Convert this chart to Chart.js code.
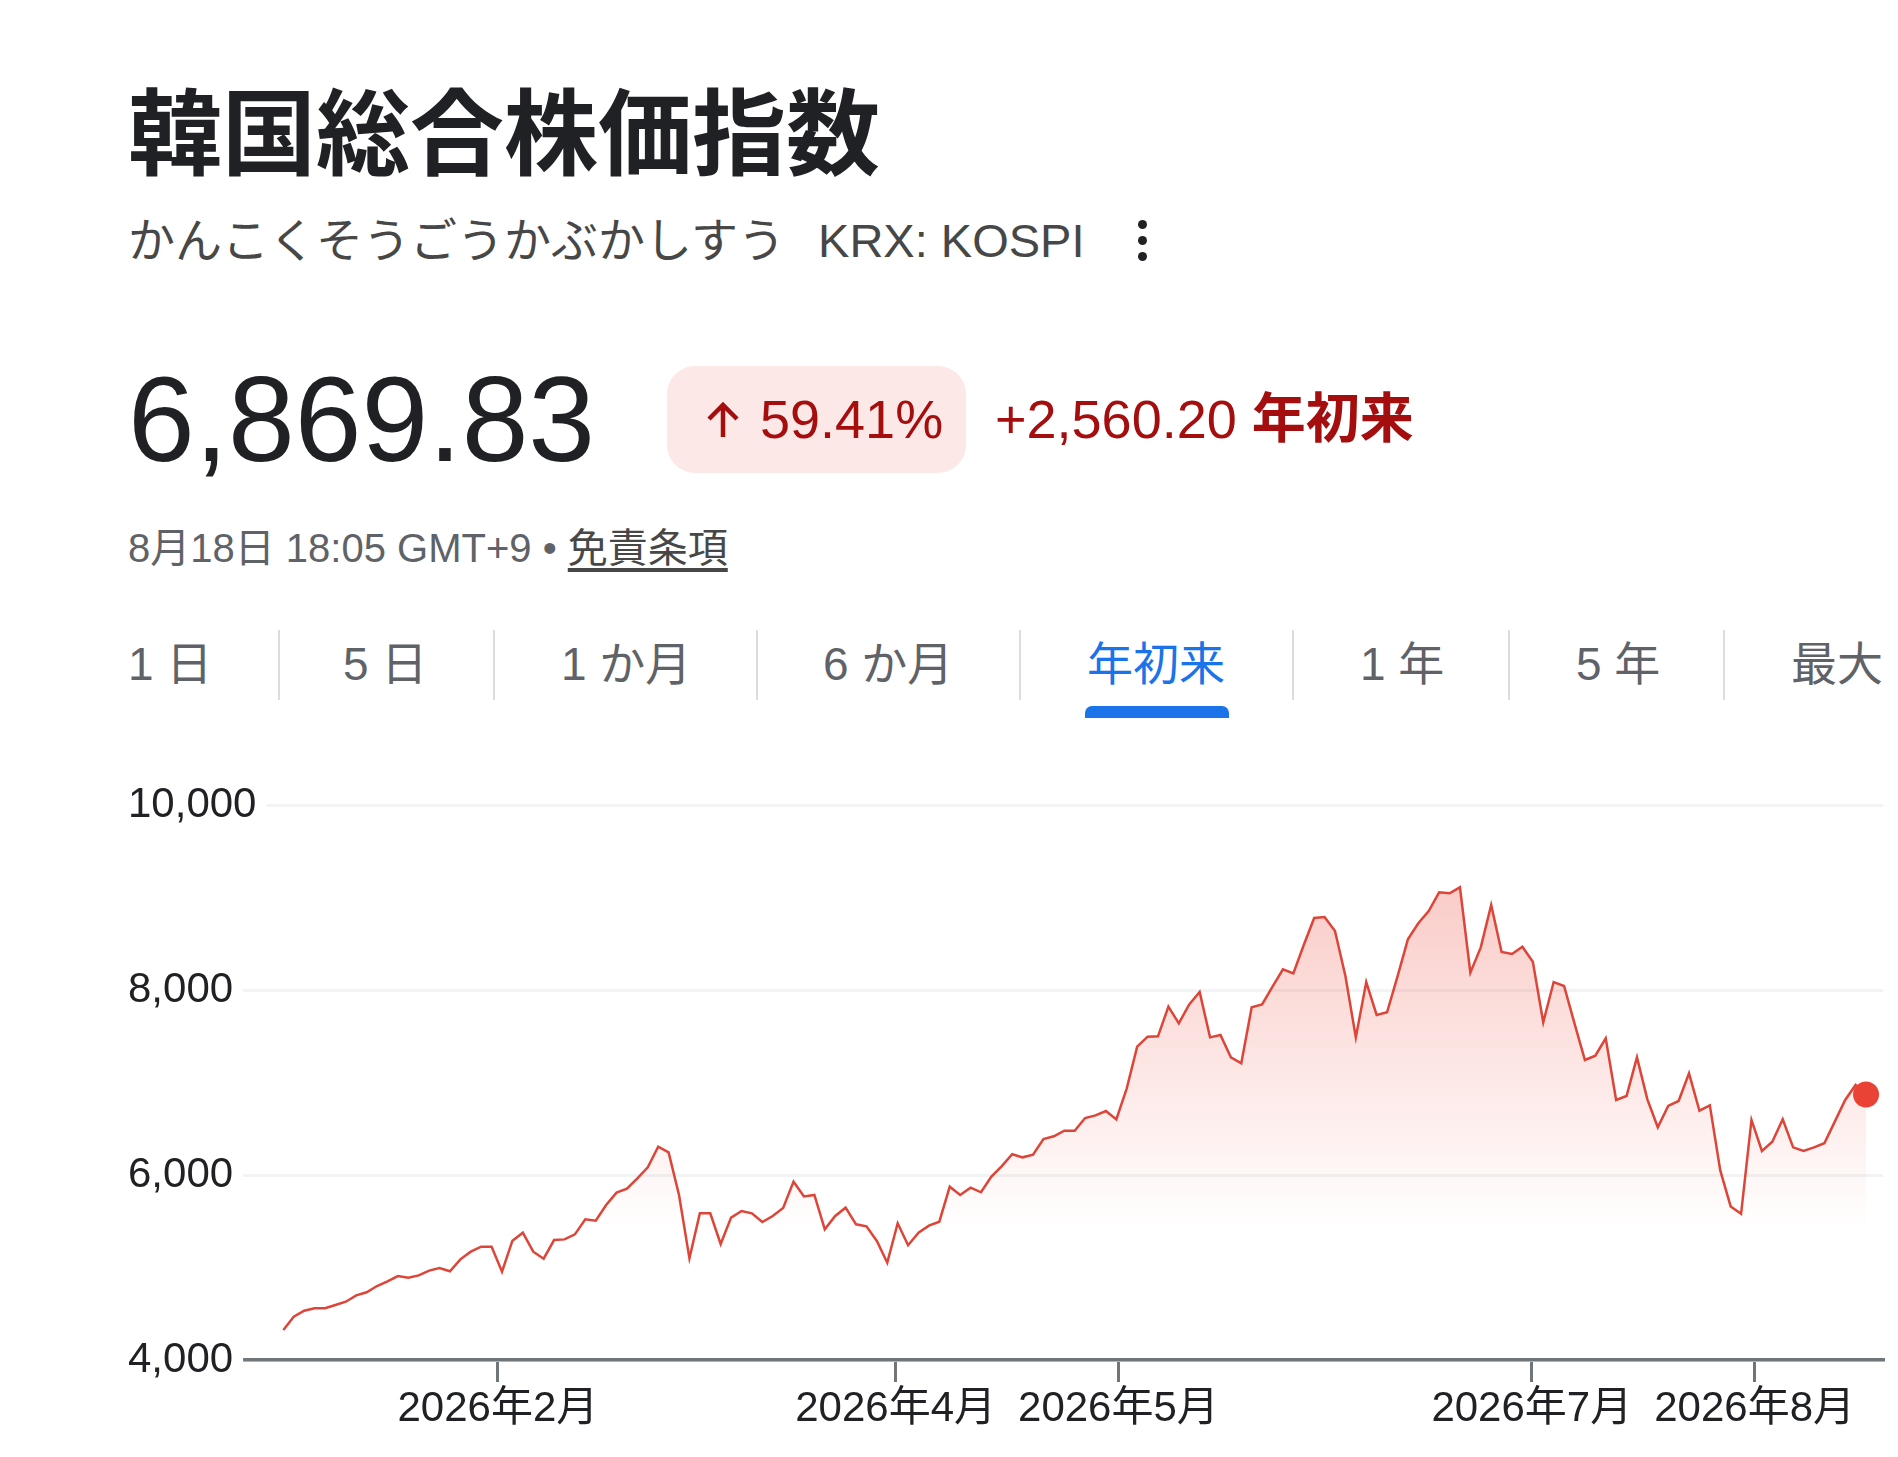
<!DOCTYPE html>
<html lang="ja">
<head>
<meta charset="utf-8">
<script src="https://cdn.jsdelivr.net/npm/chart.js@4.4.1/dist/chart.umd.min.js"></script>
<style>
html,body{margin:0;padding:0;background:#fff;}
body{width:1898px;height:1457px;position:relative;overflow:hidden;font-family:"Liberation Sans",Arial,"Noto Sans CJK JP",sans-serif;}
.abs{position:absolute;white-space:nowrap;}
#title{left:128px;top:89px;font-size:94px;line-height:94px;height:94px;font-weight:700;color:#202124;}
#sub{left:128px;top:217px;font-size:47px;line-height:47px;height:47px;color:#474747;}
#sub .tk{margin-left:33px;}
.dot{position:absolute;left:1138px;width:9px;height:9px;border-radius:50%;background:#202124;}
#price{left:128px;top:359px;font-size:120px;line-height:120px;height:120px;color:#202124;}
#badge{left:667px;top:366px;width:299px;height:107px;border-radius:28px;background:#fce8e6;}
#arrow{left:703px;top:401px;}
#pct{left:760px;top:392px;font-size:54px;line-height:54px;height:54px;color:#a50e0e;}
#chg{left:995px;top:392px;font-size:54px;line-height:54px;height:54px;color:#a50e0e;}
#chg b{font-weight:700;}
#date{left:128px;top:528px;font-size:40px;line-height:40px;height:40px;color:#5f6368;}
#date u{color:#474747;text-underline-offset:6px;}
.tab{position:absolute;top:641px;font-size:46px;line-height:46px;height:46px;color:#5f6368;white-space:nowrap;}
.tab.on{color:#1a73e8;}
.sep{position:absolute;top:630px;width:2px;height:70px;background:#dadce0;}
#ind{left:1085px;top:706px;width:144px;height:12px;border-radius:7px 7px 0 0;background:#1a73e8;}
#c{position:absolute;left:0;top:760px;}
</style>
</head>
<body>
<div id="title" class="abs">韓国総合株価指数</div>
<div id="sub" class="abs">かんこくそうごうかぶかしすう<span class="tk">KRX: KOSPI</span></div>
<div class="dot" style="top:220px"></div>
<div class="dot" style="top:236px"></div>
<div class="dot" style="top:252px"></div>
<div id="price" class="abs">6,869.83</div>
<div id="badge" class="abs"></div>
<svg id="arrow" class="abs" width="40" height="38" viewBox="0 0 40 38"><path d="M20 36 V4 M6 18 L20 4 L34 18" fill="none" stroke="#a50e0e" stroke-width="4.5"/></svg>
<div id="pct" class="abs">59.41%</div>
<div id="chg" class="abs">+2,560.20 <b>年初来</b></div>
<div id="date" class="abs">8月18日 18:05 GMT+9 • <u>免責条項</u></div>
<div class="tab" style="left:128px">1 日</div>
<div class="tab" style="left:343px">5 日</div>
<div class="tab" style="left:561px">1 か月</div>
<div class="tab" style="left:823px">6 か月</div>
<div class="tab on" style="left:1087px">年初来</div>
<div class="tab" style="left:1360px">1 年</div>
<div class="tab" style="left:1576px">5 年</div>
<div class="tab" style="left:1791px">最大</div>
<div class="sep" style="left:278px"></div>
<div class="sep" style="left:493px"></div>
<div class="sep" style="left:756px"></div>
<div class="sep" style="left:1019px"></div>
<div class="sep" style="left:1292px"></div>
<div class="sep" style="left:1508px"></div>
<div class="sep" style="left:1723px"></div>
<div id="ind" class="abs"></div>
<canvas id="c" width="1898" height="697"></canvas>
<script>
// KOSPI daily closes, year to date (session index 0 = first session of 2026)
const kospiValues = [
  4324, 4468, 4533, 4559, 4559, 4595, 4630, 4699, 4732, 4800,
  4851, 4908, 4890, 4915, 4966, 4995, 4959, 5088, 5171, 5225,
  5225, 4955, 5290, 5376, 5171, 5095, 5297, 5304, 5358, 5521,
  5506, 5676, 5809, 5852, 5964, 6083, 6306, 6245, 5784, 5099,
  5586, 5586, 5254, 5539, 5611, 5586, 5492, 5557, 5643, 5928,
  5769, 5784, 5413, 5557, 5647, 5467, 5445, 5287, 5052, 5478,
  5240, 5376, 5452, 5495, 5874, 5784, 5863, 5813, 5982, 6097,
  6224, 6191, 6219, 6389, 6418, 6479, 6479, 6616, 6645, 6692,
  6600, 6937, 7387, 7495, 7499, 7820, 7640, 7845, 7978, 7488,
  7513, 7272, 7207, 7813, 7845, 8036, 8223, 8180, 8486, 8778,
  8789, 8638, 8151, 7488, 8086, 7730, 7759, 8144, 8548, 8721,
  8854, 9056, 9045, 9110, 8187, 8461, 8919, 8411, 8389, 8468,
  8306, 7651, 8086, 8043, 7640, 7243, 7290, 7478, 6811, 6854,
  7272, 6818, 6516, 6746, 6800, 7099, 6695, 6753, 6050, 5660,
  5580, 6595, 6260, 6360, 6602, 6299, 6260, 6299, 6343, 6577,
  6811, 6973, 6869.83
];
// month boundaries expressed on the session-index axis
const monthTickIdx = [20.6, 58.8, 80.2, 119.9, 141.3];
const monthTickLabels = ['2026年2月', '2026年4月', '2026年5月', '2026年7月', '2026年8月'];
const yTickValues = [4000, 6000, 8000, 10000];

const FONT = '"Liberation Sans", Arial, "Noto Sans CJK JP", sans-serif';
const lastIdx = kospiValues.length - 1;

new Chart(document.getElementById('c'), {
  type: 'line',
  data: {
    datasets: [{
      data: kospiValues.map((v, i) => ({ x: i, y: v })),
      borderColor: '#dd4538',
      borderWidth: 2.5,
      tension: 0,
      fill: 'start',
      backgroundColor: (c) => {
        const ch = c.chart;
        const ys = ch.scales.y;
        if (!ch.chartArea || !ys) return 'rgba(234,67,53,0.1)';
        const top = ys.getPixelForValue(Math.max(...kospiValues));
        const bot = ys.getPixelForValue(5400);
        const g = ch.ctx.createLinearGradient(0, top, 0, bot);
        g.addColorStop(0, 'rgba(234,67,53,0.27)');
        g.addColorStop(1, 'rgba(234,67,53,0.0)');
        return g;
      },
      pointRadius: (c) => c.dataIndex === lastIdx ? 13 : 0,
      pointHoverRadius: (c) => c.dataIndex === lastIdx ? 13 : 0,
      pointBackgroundColor: '#ea4335',
      pointBorderWidth: 0,
      clip: false
    }]
  },
  options: {
    responsive: false,
    animation: false,
    devicePixelRatio: 1,
    events: [],
    layout: { padding: { left: 128, right: 15, top: 45, bottom: 0 } },
    plugins: { legend: { display: false }, tooltip: { enabled: false } },
    scales: {
      x: {
        type: 'linear',
        min: -14.92,
        max: 153.63,
        afterFit: (s) => { s.height = 97; },
        afterBuildTicks: (s) => { s.ticks = monthTickIdx.map(v => ({ value: v })); },
        grid: { drawOnChartArea: false, drawTicks: true, tickLength: 22, color: '#70757a', lineWidth: 3 },
        border: { display: true, color: '#70757a', width: 3.5, z: 1 },
        ticks: {
          autoSkip: false, maxRotation: 0, padding: 2, color: '#202124',
          font: { size: 42, family: FONT },
          callback: (v) => { const k = monthTickIdx.indexOf(v); return k >= 0 ? monthTickLabels[k] : ''; }
        }
      },
      y: {
        type: 'linear',
        min: 4000,
        max: 10000,
        afterFit: (s) => { s.width = 0; },
        afterBuildTicks: (s) => { s.ticks = yTickValues.map(v => ({ value: v })); },
        grid: { drawTicks: false, color: '#f1f3f4', lineWidth: 3 },
        border: { display: false },
        ticks: {
          mirror: true, padding: 0, z: 2, color: '#202124',
          font: { size: 42, family: FONT },
          showLabelBackdrop: true, backdropColor: '#ffffff',
          backdropPadding: { left: 8, right: 10, top: 3, bottom: 3 },
          callback: (v) => v.toLocaleString('en-US')
        }
      }
    }
  }
});
</script>
</body>
</html>
